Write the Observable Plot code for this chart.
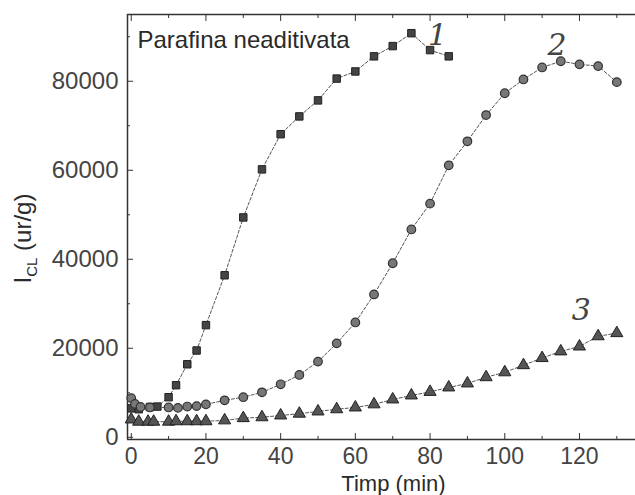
<!DOCTYPE html>
<html><head><meta charset="utf-8">
<script src="https://cdn.jsdelivr.net/npm/d3@7"></script>
<script src="https://cdn.jsdelivr.net/npm/@observablehq/plot@0.6"></script>
<style>body{margin:0;background:#fff} svg{display:block}</style>
</head><body><div id="chart"></div>
<script>
// Curve 1 (squares)
const time1 = [0, 2, 5, 7, 10, 12, 15, 17.5, 20, 25, 30, 35, 40, 45, 50, 55, 60, 65, 70, 75, 80, 85];
const value1 = [6500, 6300, 6800, 6900, 9000, 11700, 16400, 19500, 25200, 36400, 49400, 60200, 68100, 72100, 75700, 80600, 82200, 85600, 87900, 90800, 87000, 85600];
// Curve 2 (circles)
const time2 = [0, 1, 2.5, 5, 10, 12.5, 15, 17.5, 20, 25, 30, 35, 40, 45, 50, 55, 60, 65, 70, 75, 80, 85, 90, 95, 100, 105, 110, 115, 120, 125, 130];
const value2 = [8800, 7500, 6800, 6700, 6700, 6600, 6900, 7000, 7400, 8300, 9000, 10100, 11900, 14000, 17000, 21100, 25800, 32100, 39100, 46700, 52500, 61100, 66500, 72400, 77300, 80400, 83100, 84500, 83800, 83400, 79800];
// Curve 3 (triangles)
const time3 = [0, 2, 4.5, 6, 10, 12, 15, 17.5, 20, 25, 30, 35, 40, 45, 50, 55, 60, 65, 70, 75, 80, 85, 90, 95, 100, 105, 110, 115, 120, 125, 130];
const value3 = [4000, 3500, 3500, 3500, 3500, 3600, 3600, 3600, 3600, 3800, 4300, 4500, 4900, 5300, 5800, 6300, 6700, 7400, 8500, 9400, 10200, 11200, 12100, 13500, 14600, 16200, 17800, 19300, 20400, 22700, 23400];

const xTicks = [0, 20, 40, 60, 80, 100, 120];
const xMinorTicks = [10, 30, 50, 70, 90, 110, 130];
const yTicks = [0, 20000, 40000, 60000, 80000];
const yMinorTicks = [10000, 30000, 50000, 70000, 90000];
const xDomain = [-1, 135];
const yDomain = [-500, 95000];

const curveLabels = ["1", "2", "3"];
const curveLabelX = [82, 114, 120.5];
const curveLabelY = [90300, 88100, 28500];

const titleText = "Parafina neaditivata";
const xLabel = "Timp (min)";
const yLabelMain = "I";
const yLabelSub = "CL";
const yLabelUnit = " (ur/g)";

const toRows = (ts, vs, s) => ts.map((t, i) => ({t, v: vs[i], series: s}));
const rows1 = toRows(time1, value1, "1");
const rows2 = toRows(time2, value2, "2");
const rows3 = toRows(time3, value3, "3");
const allRows = [...rows1, ...rows2, ...rows3];
const labelRows = curveLabels.map((c, i) => ({c, t: curveLabelX[i], v: curveLabelY[i]}));

const ink = "#333";
const plot = Plot.plot({
  width: 635,
  height: 495,
  marginLeft: 127,
  marginRight: 0,
  marginTop: 14,
  marginBottom: 56,
  x: {domain: xDomain},
  y: {domain: yDomain},
  style: {fontFamily: "'Liberation Sans', Arial, sans-serif", fontSize: "24px", color: ink, background: "#fff"},
  marks: [
    Plot.ruleX([xDomain[0]], {stroke: ink, strokeWidth: 1.5}),
    Plot.ruleY([yDomain[1]], {stroke: ink, strokeWidth: 1.5}),
    Plot.ruleY([yDomain[0]], {stroke: ink, strokeWidth: 1.5}),
    Plot.axisY(yTicks, {tickSize: -6, tickPadding: 15, tickFormat: "d", label: null, fontSize: 24, fill: "#444"}),
    Plot.axisY(yMinorTicks, {tickSize: -3, tickFormat: () => "", label: null}),
    Plot.axisX(xTicks, {anchor: "bottom", tickSize: -6, tickPadding: 14.5, tickFormat: "d", label: null, fontSize: 23, fill: "#444"}),
    Plot.axisX(xMinorTicks, {anchor: "bottom", tickSize: -3, tickFormat: () => "", label: null}),
    Plot.axisX(xTicks, {anchor: "top", tickSize: -6, tickFormat: () => "", label: null}),
    Plot.axisX(xMinorTicks, {anchor: "top", tickSize: -3, tickFormat: () => "", label: null}),
    Plot.line(allRows, {x: "t", y: "v", z: "series", stroke: "#555", strokeWidth: 1, strokeDasharray: "3,2"}),
    Plot.dot(rows1, {x: "t", y: "v", symbol: "square", r: 4.2, fill: "#444", stroke: "#222", strokeWidth: 1}),
    Plot.dot(rows2, {x: "t", y: "v", symbol: "circle", r: 4.3, fill: "#777", stroke: "#333", strokeWidth: 1.2}),
    Plot.dot(rows3, {x: "t", y: "v", symbol: "triangle", r: 4.5, fill: "#555", stroke: "#222", strokeWidth: 1}),
    Plot.text(labelRows, {x: "t", y: "v", text: "c", fontFamily: "'DejaVu Serif', serif", fontStyle: "italic", fontSize: 30, fill: "#444"}),
    Plot.text([titleText], {frameAnchor: "top-left", dx: 10, dy: 33, textAnchor: "start", lineAnchor: "bottom", fontSize: 24, fill: "#2a2a2a"}),
    Plot.text([xLabel], {frameAnchor: "bottom", dx: 12, dy: 51, lineAnchor: "bottom", fontSize: 22, fill: "#2a2a2a"}),
    Plot.text([yLabelMain + yLabelSub + yLabelUnit], {frameAnchor: "left", textAnchor: "middle", rotate: -90, dx: -104, dy: 11.5, fontSize: 24, fill: "#2a2a2a"})
  ]
});
document.getElementById("chart").appendChild(plot);

// Render the subscript of the y label
d3.select(plot).selectAll("text").filter(function() { return this.textContent === yLabelMain + yLabelSub + yLabelUnit; })
  .each(function() {
    const t = d3.select(this);
    t.text(null);
    t.attr("text-anchor", "middle");
    t.append("tspan").text(yLabelMain);
    t.append("tspan").attr("dy", 6).attr("font-size", 15).text(yLabelSub);
    t.append("tspan").attr("dy", -6).text(yLabelUnit);
  });
</script>
</body></html>
